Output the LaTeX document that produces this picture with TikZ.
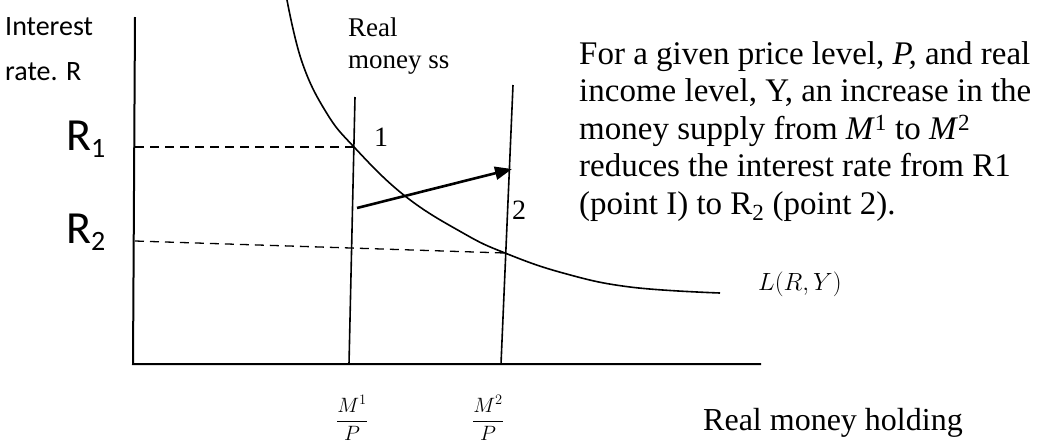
\documentclass[tikz,border=0pt]{standalone}
\usepackage{amsmath}
\usepackage{fontspec}
\setmainfont{Liberation Serif}
\newfontfamily\calibri{Carlito}
\usetikzlibrary{arrows.meta}

\newcommand{\rsub}[1]{R\raisebox{-0.16em}{\fontsize{28}{28}\selectfont #1}}

\begin{document}
\begin{tikzpicture}[
  x=1pt, y=-1pt,
  axis/.style={line width=2pt},
  sline/.style={line width=1.6pt},
  guide/.style={line width=1.3pt, dash pattern=on 9pt off 6pt},
  lbl/.style={inner sep=0pt, anchor=west},
  shiftarrow/.style={line width=2.6pt, -{Triangle[length=17pt,width=13pt]}}
]
  \useasboundingbox (0,0) rectangle (1059,445);

  % axes
  \coordinate (ytop) at (135,17);
  \coordinate (o) at (133,364);
  \coordinate (xend) at (761,364);
  \draw[axis] (ytop) -- (o) -- (xend);

  % money supply lines
  \coordinate (s1top) at (355,97);
  \coordinate (s1bot) at (349,364);
  \coordinate (s2top) at (513,85);
  \coordinate (s2bot) at (501,364);
  \draw[sline] (s1top) -- (s1bot);
  \draw[sline] (s2top) -- (s2bot);

  % money demand L(R,Y)
  \draw[sline] plot[smooth, tension=0.7] coordinates {(287,0) (302,62) (326,112) (354,147) (405,196) (463,233) (505,253) (563,273) (630,287) (720,293)};

  % equilibria and guides
  \coordinate (e1) at (354,147);
  \coordinate (e2) at (505,253);
  \coordinate (r1) at (135,147);
  \coordinate (r2) at (135,241);
  \draw[guide] (r1) -- (e1);
  \draw[guide] (r2) -- (e2);

  % shift
  \coordinate (a0) at (357,208);
  \coordinate (a1) at (512,169);
  \draw[shiftarrow] (a0) -- (a1);

  % labels
  \node[lbl, font=\calibri\fontsize{28}{30}\selectfont] (ylab1) at (5,27) {Interest};
  \node[lbl, font=\calibri\fontsize{28}{30}\selectfont] (ylab2) at (5,72) {rate. R};
  \node[lbl, font=\calibri\fontsize{46}{48}\selectfont] (R1) at (66,139) {\rsub{1}};
  \node[lbl, font=\calibri\fontsize{46}{48}\selectfont] (R2) at (66,232) {\rsub{2}};
  \node[lbl, font=\fontsize{27}{30}\selectfont] (ss1) at (348,27) {Real};
  \node[lbl, font=\fontsize{27}{30}\selectfont] (ss2) at (348,65) {money ss};
  \node[lbl, font=\fontsize{28}{30}\selectfont] (p1) at (374,137) {1};
  \node[lbl, font=\fontsize{28}{30}\selectfont] (p2) at (512,210) {2};
  \node[inner sep=0pt, font=\fontsize{20}{22}\selectfont] (m1) at (352,418) {$\dfrac{M^1}{P}$};
  \node[inner sep=0pt, font=\fontsize{20}{22}\selectfont] (m2) at (488,418) {$\dfrac{M^2}{P}$};
  \node[lbl, font=\fontsize{23}{25}\selectfont] (ld) at (758,284) {$L(R,Y)$};
  \node[lbl, font=\fontsize{32}{34}\selectfont] (xlab) at (703,423) {Real money holding};
  \node[lbl, anchor=north west, align=left, font=\fontsize{33}{37.5}\selectfont] (note) at (579,41)
    {For a given price level, \textit{P,} and real\\
     income level, Y, an increase in the\\
     money supply from \textit{M}\textsuperscript{1} to \textit{M}\textsuperscript{2}\\
     reduces the interest rate from R1\\
     (point I) to R\textsubscript{2} (point 2).};
\end{tikzpicture}
\end{document}
